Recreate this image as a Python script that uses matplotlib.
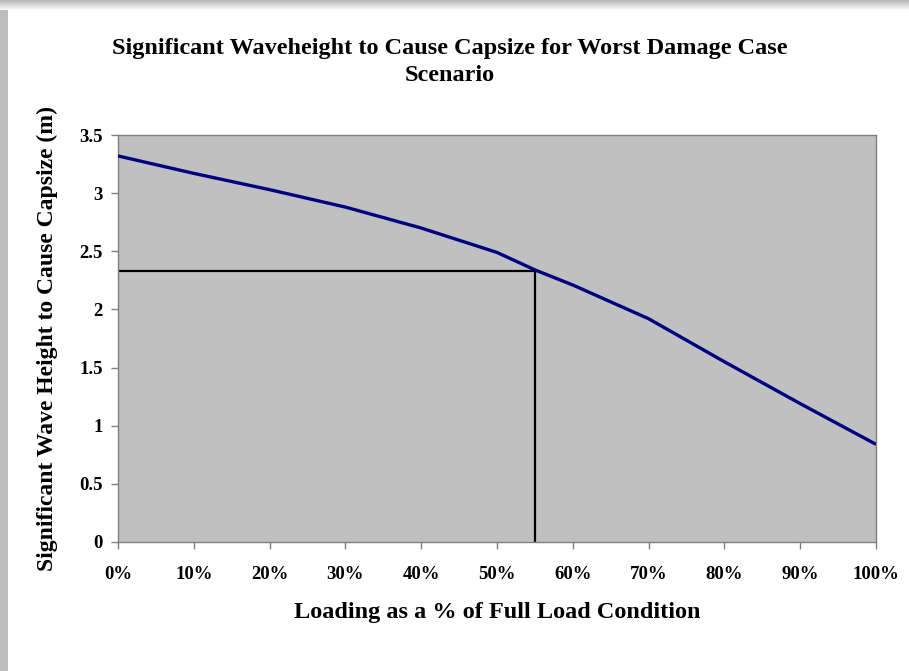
import matplotlib
matplotlib.use("Agg")
import matplotlib.pyplot as plt
from matplotlib.patches import Rectangle
import numpy as np

loading_pct = [0, 10, 20, 30, 40, 50, 55, 60, 70, 80, 90, 100]
wave_height = [3.32, 3.17, 3.03, 2.88, 2.70, 2.49, 2.34, 2.21, 1.92, 1.55, 1.19, 0.84]
marker_x = 55
marker_y = 2.33
xticks = [0, 10, 20, 30, 40, 50, 60, 70, 80, 90, 100]
xtick_labels = ["0%", "10%", "20%", "30%", "40%", "50%", "60%", "70%", "80%", "90%", "100%"]
yticks = [0, 0.5, 1, 1.5, 2, 2.5, 3, 3.5]
ytick_labels = ["0", "0.5", "1", "1.5", "2", "2.5", "3", "3.5"]

W, H = 909, 671
fig = plt.figure(figsize=(W / 100, H / 100), dpi=100)
fig.patch.set_facecolor("white")
plt.rcParams['font.family'] = ['Liberation Serif', 'DejaVu Serif']

# frame shadow
for i in range(10):
    c = 0.72 + 0.028 * i
    fig.add_artist(Rectangle((0, 1 - (i + 1) / H), 1, 1 / H, transform=fig.transFigure,
                             facecolor=(c, c, c), edgecolor='none', zorder=-5))
fig.add_artist(Rectangle((0, 0), 8 / W, 1 - 10 / H, transform=fig.transFigure,
                         facecolor='#bdbdbd', edgecolor='none', zorder=-5))

ax = fig.add_axes([118 / W, 1 - 542 / H, (876 - 118) / W, (542 - 135) / H])
ax.set_facecolor('#C0C0C0')
ax.plot(loading_pct, wave_height, color='#000080', lw=2.4, solid_capstyle='butt', zorder=3)
ax.plot([0, marker_x], [marker_y, marker_y], color='black', lw=1.6, zorder=2)
ax.plot([marker_x, marker_x], [0, marker_y], color='black', lw=1.6, zorder=2)

ax.set_xlim(0, 100)
ax.set_ylim(0, 3.5)
ax.set_xticks(xticks)
ax.set_xticklabels(xtick_labels)
ax.set_yticks(yticks)
ax.set_yticklabels(ytick_labels)
for s in ax.spines.values():
    s.set_color('#808080')
    s.set_linewidth(1.0)
ax.tick_params(axis='both', direction='out', length=5, color='#808080', width=1.0,
               labelsize=13.5)
ax.tick_params(axis='x', pad=12)
ax.tick_params(axis='y', pad=6)
for lab in ax.get_xticklabels() + ax.get_yticklabels():
    lab.set_fontweight('bold')

ax.set_xlabel("Loading as a % of Full Load Condition", fontsize=17.5, fontweight='bold', labelpad=14)
ax.set_ylabel("Significant Wave Height to Cause Capsize (m)", fontsize=17, fontweight='bold', labelpad=15)

fig.text(450 / W, 1 - 62 / H,
         "Significant Waveheight to Cause Capsize for Worst Damage Case\nScenario",
         ha='center', va='center', fontsize=17.5, fontweight='bold', linespacing=1.38)

fig.savefig("out.png", dpi=100, facecolor=fig.get_facecolor())
